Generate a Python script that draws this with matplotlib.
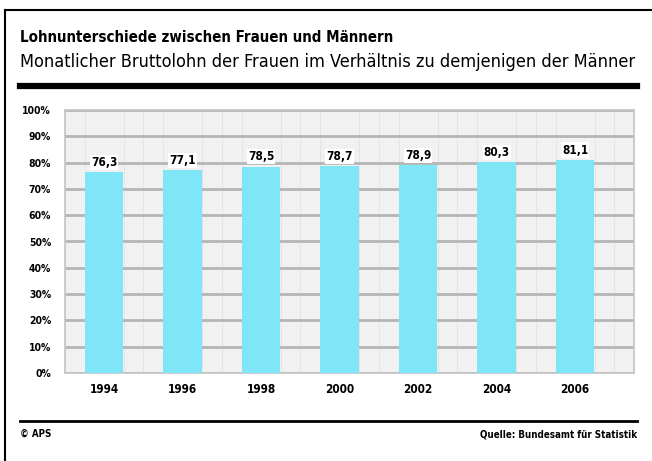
import matplotlib
matplotlib.use('Agg')
import matplotlib.pyplot as plt
import numpy as np

# Daten
jahre = ['1994', '1996', '1998', '2000', '2002', '2004', '2006']
werte = [76.3, 77.1, 78.5, 78.7, 78.9, 80.3, 81.1]
y_ticks = [0, 10, 20, 30, 40, 50, 60, 70, 80, 90, 100]

plt.rcParams['font.family'] = ['DejaVu Sans']
plt.rcParams['font.stretch'] = 'condensed'

fig = plt.figure(figsize=(6.52, 4.61), dpi=100)
fig.patch.set_facecolor('white')

# Rahmen links und oben
fig.add_artist(plt.Line2D([5/652, 5/652], [0, 1 - 10/461], color='black', lw=1.5))
fig.add_artist(plt.Line2D([5/652, 1], [1 - 10/461, 1 - 10/461], color='black', lw=1.5))

# Titel
fig.text(20/652, 1 - 38/461, 'Lohnunterschiede zwischen Frauen und Männern',
         fontsize=10.8, fontweight='bold', va='center', ha='left')
fig.text(20/652, 1 - 62/461, 'Monatlicher Bruttolohn der Frauen im Verhältnis zu demjenigen der Männer',
         fontsize=13, va='center', ha='left')
fig.add_artist(plt.Line2D([20/652, 637/652], [1 - 86/461, 1 - 86/461], color='black', lw=4.5))

# Diagramm
ax = fig.add_axes([65/652, (461-373)/461, (634-65)/652, (373-110)/461])
ax.set_facecolor('#f1f1f1')
x = np.arange(len(jahre))
bars = ax.bar(x, werte, width=0.49, color='#7fe6f7', zorder=3)
for xi, v in zip(x, werte):
    ax.text(xi, v + 1.2, f'{v:.1f}'.replace('.', ','), ha='center', va='bottom',
            fontsize=8.5, fontweight='bold', zorder=4,
            bbox=dict(facecolor='white', edgecolor='none', pad=0.8))

ax.set_xlim(-0.5, len(jahre) - 0.5)
ax.set_ylim(0, 100)
ax.set_yticks(y_ticks)
ax.set_yticklabels([f'{t}%' for t in y_ticks], fontsize=7.5, fontweight='bold')
ax.set_xticks(x)
ax.set_xticklabels(jahre, fontsize=8.5, fontweight='bold')
ax.set_xticks(np.arange(-0.5, len(jahre), 0.25), minor=True)
ax.tick_params(axis='y', length=0, pad=10)
ax.tick_params(axis='x', length=0, pad=7)
ax.tick_params(axis='x', which='minor', length=0)
ax.grid(axis='y', color='#b5b5b5', lw=2, zorder=1)
ax.grid(axis='x', which='minor', color='#e2e2e2', lw=0.6, zorder=0)
for s in ax.spines.values():
    s.set_color('#c4c4c4')
    s.set_linewidth(1.2)

# Fusszeile
fig.add_artist(plt.Line2D([20/652, 637/652], [1 - 421/461, 1 - 421/461], color='black', lw=2))
fig.text(20/652, 1 - 434/461, '© APS', fontsize=7, fontweight='bold', va='center', ha='left')
fig.text(637/652, 1 - 434/461, 'Quelle: Bundesamt für Statistik', fontsize=7,
         fontweight='bold', va='center', ha='right')

plt.savefig('out.png', dpi=100)
